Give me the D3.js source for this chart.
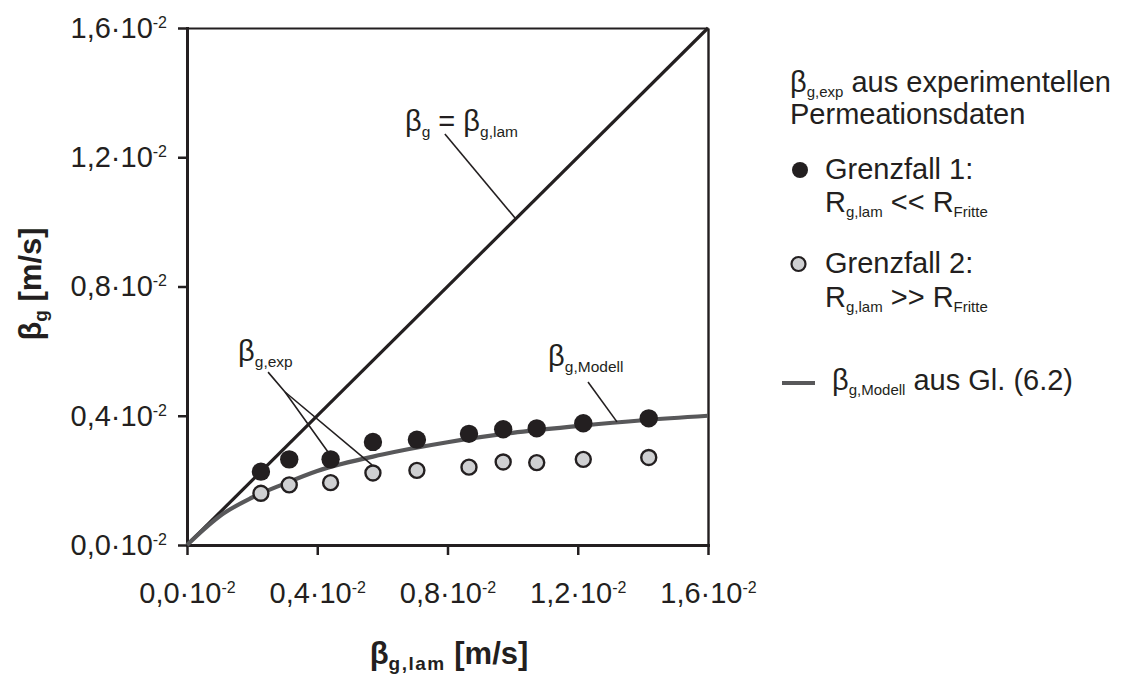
<!DOCTYPE html>
<html>
<head>
<meta charset="utf-8">
<script src="https://cdn.jsdelivr.net/npm/d3@7"></script>
<style>
  html, body { margin: 0; padding: 0; background: #fff; }
  svg { display: block; font-family: "Liberation Sans", Arial, Helvetica, sans-serif; }
</style>
</head>
<body>
<svg id="chart" width="1130" height="675"></svg>
<script>
// All values in 10^-2 m/s
const tickValues = [0, 0.4, 0.8, 1.2, 1.6];
const tickMantissas = ["0,0", "0,4", "0,8", "1,2", "1,6"];
const tickExponent = "-2";

// laminar mass transfer coefficient (x) and experimental values for both limiting cases
const betaLam = [0.227, 0.314, 0.441, 0.571, 0.706, 0.866, 0.971, 1.074, 1.217, 1.418];
const betaExpGrenzfall1 = [0.227, 0.265, 0.265, 0.319, 0.326, 0.344, 0.358, 0.361, 0.377, 0.392];
const betaExpGrenzfall2 = [0.160, 0.186, 0.193, 0.223, 0.231, 0.241, 0.257, 0.255, 0.265, 0.271];

// model curve from Gl. (6.2)
const modellLam = [0, 0.05, 0.1, 0.2, 0.3, 0.4, 0.6, 0.8, 1.0, 1.2, 1.4, 1.6];
const modellBeta = [0, 0.047, 0.089, 0.147, 0.19, 0.229, 0.28, 0.318, 0.347, 0.368, 0.386, 0.400];

// reference line beta_g = beta_g,lam
const identityLam = [0, 1.6];

const INK = "#231f20";
const MODEL_GREY = "#58585a";
const DOT_GREY = "#cfd0d2";

const svg = d3.select("#chart");
const x = d3.scaleLinear().domain([0, 1.6]).range([187, 708]);
const y = d3.scaleLinear().domain([0, 1.6]).range([545, 28]);

// text helper: parts are [string, mode] with mode "sub" / "sup" / undefined
function richText(g, parts, opts) {
  const t = g.append("text")
    .attr("x", opts.x).attr("y", opts.y)
    .attr("font-size", opts.size)
    .attr("font-weight", opts.weight || "normal")
    .attr("fill", INK)
    .attr("text-anchor", opts.anchor || "start");
  if (opts.transform) t.attr("transform", opts.transform);
  let shift = 0;
  parts.forEach(([str, mode]) => {
    let target = 0, size = opts.size;
    if (mode === "sub") { target = opts.subShift || 6; size = opts.subSize || 16; }
    if (mode === "sup") { target = -(opts.supShift || 10); size = opts.supSize || 16; }
    const ts = t.append("tspan").attr("font-size", size).text(str);
    if (target !== shift) { ts.attr("dy", target - shift); shift = target; }
    if (opts.subSpacing && mode === "sub") ts.attr("letter-spacing", opts.subSpacing);
  });
  return t;
}

// ---- frame lines (top / right) ----
svg.append("g")
  .attr("transform", `translate(0,${y(1.6)})`)
  .call(d3.axisTop(x).tickValues([]).tickSizeOuter(0))
  .call(g => g.select(".domain").attr("stroke", INK).attr("stroke-width", 2));
svg.append("g")
  .attr("transform", `translate(${x(1.6)},0)`)
  .call(d3.axisRight(y).tickValues([]).tickSizeOuter(0))
  .call(g => g.select(".domain").attr("stroke", INK).attr("stroke-width", 2.4));

// ---- axes ----
function styleAxis(g) {
  g.select(".domain").attr("stroke", INK).attr("stroke-width", 3).attr("stroke-linecap", "square");
  g.selectAll(".tick line").attr("stroke", INK).attr("stroke-width", 2.5);
}

const xAxis = svg.append("g")
  .attr("transform", `translate(0,${y(0)})`)
  .call(d3.axisBottom(x).tickValues(tickValues).tickSize(10).tickSizeOuter(0).tickPadding(27))
  .call(styleAxis);

const yAxis = svg.append("g")
  .attr("transform", `translate(${x(0)},0)`)
  .call(d3.axisLeft(y).tickValues(tickValues).tickSize(9).tickSizeOuter(0).tickPadding(11))
  .call(styleAxis);

[xAxis, yAxis].forEach(ax => {
  ax.selectAll(".tick text").each(function(d) {
    const t = d3.select(this);
    t.text(null).attr("fill", INK).attr("font-size", 29)
      .attr("font-family", "'Liberation Sans', Arial, sans-serif");
    const i = tickValues.indexOf(d);
    t.append("tspan").text(tickMantissas[i] + "\u00B710");
    t.append("tspan").attr("font-size", 16).attr("dy", -10).text(tickExponent);
  });
});

// ---- reference line and model curve ----
const line = d3.line().x(d => x(d[0])).y(d => y(d[1]));

svg.append("path")
  .datum(identityLam.map(v => [v, v]))
  .attr("d", line)
  .attr("fill", "none").attr("stroke", INK).attr("stroke-width", 3.2);

svg.append("path")
  .datum(modellLam.map((v, i) => [v, modellBeta[i]]))
  .attr("d", line.curve(d3.curveMonotoneX))
  .attr("fill", "none").attr("stroke", MODEL_GREY).attr("stroke-width", 4.2);

// ---- experimental points ----
svg.append("g").selectAll("circle")
  .data(betaLam.map((v, i) => [v, betaExpGrenzfall2[i]]))
  .join("circle")
  .attr("cx", d => x(d[0])).attr("cy", d => y(d[1]))
  .attr("r", 7.5).attr("fill", DOT_GREY).attr("stroke", INK).attr("stroke-width", 2.4);

svg.append("g").selectAll("circle")
  .data(betaLam.map((v, i) => [v, betaExpGrenzfall1[i]]))
  .join("circle")
  .attr("cx", d => x(d[0])).attr("cy", d => y(d[1]))
  .attr("r", 9.2).attr("fill", INK);

// ---- in-plot annotations (anchors in data units) ----
const ann = svg.append("g");
const leader = (pts) => ann.append("path")
  .attr("d", d3.line()(pts.map(p => [x(p[0]), y(p[1])])))
  .attr("fill", "none").attr("stroke", INK).attr("stroke-width", 1.6);

richText(ann, [["\u03B2"], ["g", "sub"], [" = \u03B2"], ["g,lam", "sub"]],
  { x: x(0.6695), y: y(1.281), size: 29, subSize: 15.5, subShift: 6 });
leader([[0.792, 1.272], [1.0095, 1.0095]]);

richText(ann, [["\u03B2"], ["g,exp", "sub"]],
  { x: x(0.157), y: y(0.569), size: 29, subSize: 15.5, subShift: 6 });
leader([[0.249, 0.535], [0.301, 0.4735], [0.438, 0.281]]);
leader([[0.301, 0.4735], [0.568, 0.248]]);

richText(ann, [["\u03B2"], ["g,Modell", "sub"]],
  { x: x(1.109), y: y(0.554), size: 29, subSize: 15.5, subShift: 6 });
leader([[1.2315, 0.5045], [1.3205, 0.381]]);

// ---- axis titles ----
richText(svg, [["\u03B2"], ["g,lam", "sub"], [" [m/s]"]],
  { x: 449, y: 664, size: 31, weight: "bold", anchor: "middle", subSize: 19, subShift: 6, subSpacing: 1.5 });

richText(svg, [["\u03B2"], ["g", "sub"], [" [m/s]"]],
  { x: 0, y: 0, size: 31, weight: "bold", anchor: "middle", subSize: 19, subShift: 6,
    transform: "translate(41,284) rotate(-90)" });

// ---- legend ----
const leg = svg.append("g");
const LS = { size: 29, subSize: 15, subShift: 5 };
richText(leg, [["\u03B2"], ["g,exp", "sub"], [" aus experimentellen"]], { ...LS, x: 790, y: 92 });
richText(leg, [["Permeationsdaten"]], { ...LS, x: 790, y: 124 });

leg.append("circle").attr("cx", 800).attr("cy", 170).attr("r", 8).attr("fill", INK);
richText(leg, [["Grenzfall 1:"]], { ...LS, x: 825, y: 179 });
richText(leg, [["R"], ["g,lam", "sub"], [" << R"], ["Fritte", "sub"]], { ...LS, x: 825, y: 212 });

leg.append("circle").attr("cx", 798.5).attr("cy", 264).attr("r", 7)
  .attr("fill", DOT_GREY).attr("stroke", INK).attr("stroke-width", 2.2);
richText(leg, [["Grenzfall 2:"]], { ...LS, x: 825, y: 273 });
richText(leg, [["R"], ["g,lam", "sub"], [" >> R"], ["Fritte", "sub"]], { ...LS, x: 825, y: 307 });

leg.append("line").attr("x1", 782).attr("x2", 815).attr("y1", 383).attr("y2", 383)
  .attr("stroke", MODEL_GREY).attr("stroke-width", 4.2);
richText(leg, [["\u03B2"], ["g,Modell", "sub"], [" aus Gl. (6.2)"]], { ...LS, x: 832, y: 390 });
</script>
</body>
</html>
